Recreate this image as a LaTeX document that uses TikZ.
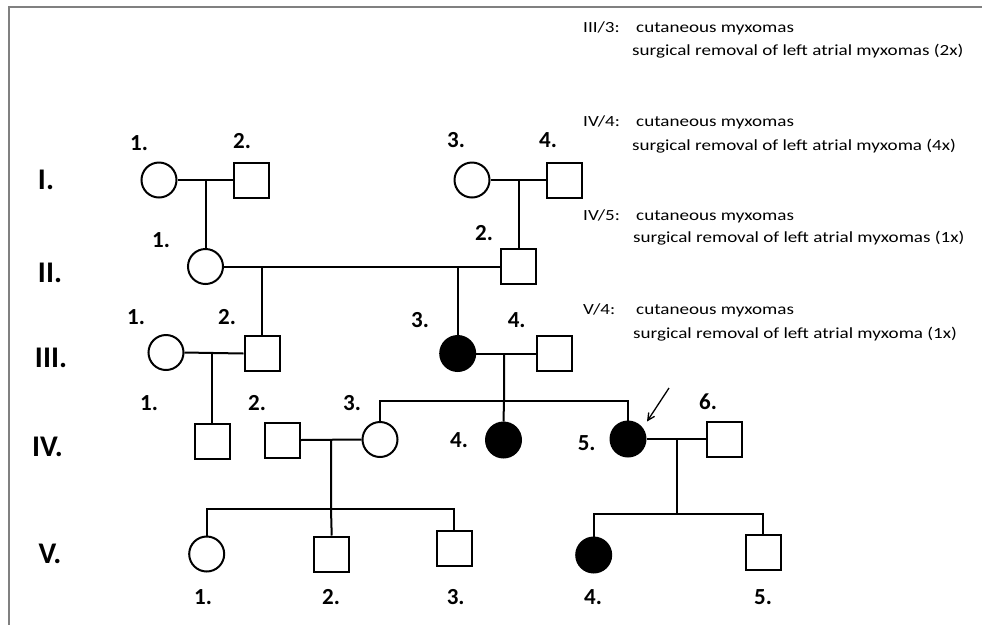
\documentclass[tikz,border=0pt]{standalone}
\usepackage{fontspec}
\setmainfont{Carlito}
\newfontfamily\notefont[FakeStretch=1.23]{Carlito}
\usetikzlibrary{arrows.meta}
\begin{document}
\begin{tikzpicture}[x=1pt,y=-1pt,
  fem/.style={circle,draw,line width=2pt,minimum size=35pt,inner sep=0pt},
  mal/.style={rectangle,draw,line width=2pt,minimum size=35pt,inner sep=0pt},
  aff/.style={fill=black},
  ln/.style={line width=2pt},
  lbl/.style={font=\bfseries\fontsize{23}{23}\selectfont,inner sep=0pt},
  gen/.style={font=\bfseries\fontsize{30}{30}\selectfont,inner sep=0pt},
  note/.style={font=\notefont\fontsize{15.5}{15.5}\selectfont,inner sep=0pt,anchor=base west},
  frame/.style={draw=black!50,line width=1.5pt}
]
\useasboundingbox (0,0) rectangle (982,625);
\fill[white] (0,0) rectangle (982,625);
% frame
\coordinate (fTR) at (982,7);
\coordinate (fTL) at (9,7);
\coordinate (fBL) at (9,625);
\draw[frame] (fTR) -- (fTL) -- (fBL);

% generation labels
\node[gen] (gI)   at (46,180) {I.};
\node[gen] (gII)  at (50,273) {II.};
\node[gen] (gIII) at (51,358) {III.};
\node[gen] (gIV)  at (47.5,447) {IV.};
\node[gen] (gV)   at (50,554) {V.};

% generation I
\node[fem] (I1) at (159,180) {};
\node[mal] (I2) at (251.5,180) {};
\node[fem] (I3) at (472,180) {};
\node[mal] (I4) at (564.5,180) {};
\node[lbl] (lI1) at (139,143) {1.};
\node[lbl] (lI2) at (242,141) {2.};
\node[lbl] (lI3) at (456,140) {3.};
\node[lbl] (lI4) at (548,140) {4.};

% generation II
\node[fem] (II1) at (205.5,266.5) {};
\node[mal] (II2) at (518.5,266.5) {};
\node[lbl] (lII1) at (161,240) {1.};
\node[lbl] (lII2) at (484,233) {2.};

% generation III
\node[fem] (III1) at (166,352.5) {};
\node[mal] (III2) at (262,353.5) {};
\node[fem,aff] (III3) at (457.7,353.5) {};
\node[mal] (III4) at (554,353.5) {};
\node[lbl] (lIII1) at (136,317) {1.};
\node[lbl] (lIII2) at (227,317) {2.};
\node[lbl] (lIII3) at (420,320) {3.};
\node[lbl] (lIII4) at (516.7,320) {4.};

% generation IV
\node[mal] (IV1) at (212,441) {};
\node[mal] (IV2) at (282,440) {};
\node[fem] (IV3) at (380,439.5) {};
\node[fem,aff] (IV4) at (503.5,440) {};
\node[fem,aff] (IV5) at (628,439) {};
\node[mal] (IV6) at (724,439) {};
\node[lbl] (lIV1) at (149,403) {1.};
\node[lbl] (lIV2) at (257,403) {2.};
\node[lbl] (lIV3) at (352,403) {3.};
\node[lbl] (lIV4) at (459,440) {4.};
\node[lbl] (lIV5) at (586.7,443) {5.};
\node[lbl] (lIV6) at (708,401.7) {6.};

% generation V
\node[fem] (V1) at (206.7,554) {};
\node[mal] (V2) at (331.7,554) {};
\node[mal] (V3) at (454,548.5) {};
\node[fem,aff] (V4) at (593.7,555) {};
\node[mal] (V5) at (763,552) {};
\node[lbl] (lV1) at (203,597) {1.};
\node[lbl] (lV2) at (331,597) {2.};
\node[lbl] (lV3) at (455.7,597) {3.};
\node[lbl] (lV4) at (593,597) {4.};
\node[lbl] (lV5) at (763,597) {5.};

% junction coordinates
\coordinate (m1) at (205.5,180);
\coordinate (m2) at (518.5,180);
\coordinate (s2a) at (262,266.5);
\coordinate (s2b) at (457.7,266.5);
\coordinate (m3) at (212,353);
\coordinate (m4) at (504,353);
\coordinate (s4L) at (380,400.7);
\coordinate (s4M) at (504,400.7);
\coordinate (s4R) at (628,400.7);
\coordinate (m5) at (331,439);
\coordinate (m6) at (677,438);
\coordinate (s5L) at (206.7,509);
\coordinate (s5M) at (331,509);
\coordinate (s5R) at (454,509);
\coordinate (s6L) at (593.7,514);
\coordinate (s6M) at (677,514);
\coordinate (s6R) at (763,514);

% lines
\draw[ln] (I1.east) -- (I2.west);
\draw[ln] (m1) -- (II1.north);
\draw[ln] (I3.east) -- (I4.west);
\draw[ln] (m2) -- (II2.north);
\draw[ln] (II1.east) -- (II2.west);
\draw[ln] (s2a) -- (III2.north);
\draw[ln] (s2b) -- (III3.north);
\draw[ln] (III1.east) -- (III2.west);
\draw[ln] (m3) -- (IV1.north);
\draw[ln] (III3.east) -- (III4.west);
\draw[ln] (m4) -- (s4M) -- (IV4.north);
\draw[ln] (IV3.north) -- (s4L) -- (s4R) -- (IV5.north);
\draw[ln] (IV2.east) -- (IV3.west);
\draw[ln] (m5) -- (s5M) -- (V2.north);
\draw[ln] (V1.north) -- (s5L) -- (s5R) -- (V3.north);
\draw[ln] (IV5.east) -- (IV6.west);
\draw[ln] (m6) -- (s6M);
\draw[ln] (V4.north) -- (s6L) -- (s6R) -- (V5.north);

% proband arrow
\coordinate (arS) at (669,388);
\coordinate (arE) at (647,421.5);
\draw[line width=1.3pt,-{Straight Barb[length=7pt,width=7pt]}] (arS) -- (arE);

% notes
\node[note] (n1a) at (583,32) {III/3:};
\node[note] (n1b) at (636,32) {cutaneous myxomas};
\node[note] (n1c) at (632,55) {surgical removal of left atrial myxomas (2x)};
\node[note] (n2a) at (583,126) {IV/4:};
\node[note] (n2b) at (636,126) {cutaneous myxomas};
\node[note] (n2c) at (632,150) {surgical removal of left atrial myxoma (4x)};
\node[note] (n3a) at (583,220.5) {IV/5:};
\node[note] (n3b) at (636,220.5) {cutaneous myxomas};
\node[note] (n3c) at (633,242) {surgical removal of left atrial myxomas (1x)};
\node[note] (n4a) at (583,314) {V/4:};
\node[note] (n4b) at (636,314) {cutaneous myxomas};
\node[note] (n4c) at (633,338) {surgical removal of left atrial myxoma (1x)};
\end{tikzpicture}
\end{document}
